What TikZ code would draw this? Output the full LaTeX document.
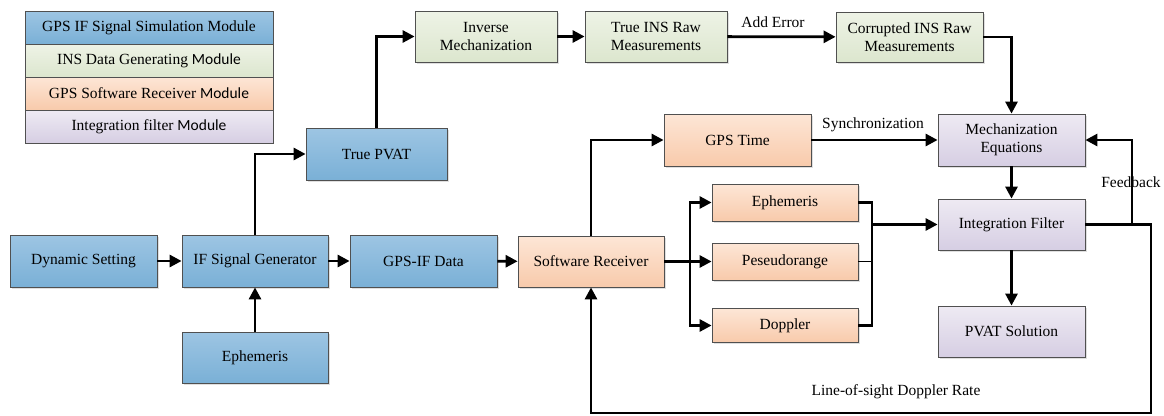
\documentclass[tikz,border=0pt]{standalone}
\usepackage{fontspec}
\setmainfont{Liberation Serif}
\newfontfamily\calib{Carlito}
\usetikzlibrary{arrows.meta,shadows}
\definecolor{bTop}{HTML}{9DC5E3}
\definecolor{bBot}{HTML}{7AB0D6}
\definecolor{gTop}{HTML}{EEF3E6}
\definecolor{gBot}{HTML}{DCE6CE}
\definecolor{oTop}{HTML}{FDE6D6}
\definecolor{oBot}{HTML}{F8CAAB}
\definecolor{pTop}{HTML}{EEEAF3}
\definecolor{pBot}{HTML}{D6CEE3}
\definecolor{edge}{HTML}{505050}
\tikzset{
  box/.style={draw=edge, line width=0.8pt, rectangle, inner sep=1pt, align=center,
    font=\fontsize{15.5}{18}\selectfont,
    drop shadow={shadow xshift=1.5pt, shadow yshift=-1.5pt, opacity=0.25}},
  bluebox/.style={box, top color=bTop, bottom color=bBot},
  greenbox/.style={box, top color=gTop, bottom color=gBot},
  orangebox/.style={box, top color=oTop, bottom color=oBot},
  purplebox/.style={box, top color=pTop, bottom color=pBot},
  legrow/.style={draw=edge, line width=0.8pt, rectangle, minimum width=248pt, minimum height=33pt,
    font=\fontsize{15.5}{18}\selectfont, inner sep=0pt},
  conn/.style={line width=2.8pt, -{Triangle[length=12pt,width=12pt]}},
  plain/.style={line width=2.8pt},
  lbl/.style={font=\fontsize{15.5}{18}\selectfont, inner sep=1pt}
}
\begin{document}
\begin{tikzpicture}[x=1pt,y=-1pt]
\useasboundingbox (0,0) rectangle (1164,415);
% legend
\node[legrow, top color=bTop, bottom color=bBot] (l1) at (149,27.5) {GPS IF Signal Simulation Module};
\node[legrow, top color=gTop, bottom color=gBot] (l2) at (149,60.5) {INS Data Generating {\calib Module}};
\node[legrow, top color=oTop, bottom color=oBot] (l3) at (149,93.5) {GPS Software Receiver {\calib Module}};
\node[legrow, top color=pTop, bottom color=pBot] (l4) at (149,126.5) {Integration filter {\calib Module}};
% blue
\node[bluebox, minimum width=147pt, minimum height=52pt] (dyn) at (83.5,261) {Dynamic Setting};
\node[bluebox, minimum width=146pt, minimum height=52pt] (ifgen) at (255,261) {IF Signal Generator};
\node[bluebox, minimum width=147pt, minimum height=52pt] (gpsif) at (423.5,261) {GPS-IF Data};
\node[bluebox, minimum width=146pt, minimum height=51pt] (ephA) at (255,357.5) {Ephemeris};
\node[bluebox, minimum width=141pt, minimum height=52pt] (pvat) at (376.5,154) {True PVAT};
% green
\node[greenbox, minimum width=142pt, minimum height=51pt] (inv) at (486,36.5) {Inverse\\Mechanization};
\node[greenbox, minimum width=142pt, minimum height=51pt] (tins) at (656,36.5) {True INS Raw\\Measurements};
\node[greenbox, minimum width=147pt, minimum height=50pt] (cins) at (909.5,37) {Corrupted INS Raw\\Measurements};
% orange
\node[orangebox, minimum width=146pt, minimum height=51pt] (swr) at (591,261.5) {Software Receiver};
\node[orangebox, minimum width=147pt, minimum height=52pt] (gtime) at (737.5,140) {GPS Time};
\node[orangebox, minimum width=146pt, minimum height=37pt] (ephB) at (785,202.5) {Ephemeris};
\node[orangebox, minimum width=146pt, minimum height=37pt] (pseudo) at (785,261.5) {Peseudorange};
\node[orangebox, minimum width=146pt, minimum height=34pt] (dop) at (785,325.5) {Doppler};
% purple
\node[purplebox, minimum width=147pt, minimum height=52pt] (mech) at (1011.5,140) {Mechanization\\Equations};
\node[purplebox, minimum width=147pt, minimum height=51pt] (intf) at (1011.5,224.5) {Integration Filter};
\node[purplebox, minimum width=147pt, minimum height=51pt] (sol) at (1011.5,331.5) {PVAT Solution};
% coordinates
\coordinate (fork) at (690,261.5);
\coordinate (mT) at (872,202.5);
\coordinate (mB) at (872,325.5);
\coordinate (mP) at (872,261.5);
\coordinate (mO) at (872,224.5);
\coordinate (fbA) at (1132,224.5);
\coordinate (fbB) at (1132,140);
\coordinate (rr) at (1151,224.5);
\coordinate (rb) at (1151,413);
\coordinate (lb) at (591,413);
% connectors
\draw[conn] (dyn) -- (ifgen);
\draw[conn] (ifgen) -- (gpsif);
\draw[conn] (gpsif) -- (swr);
\draw[conn] (ephA) -- (ifgen);
\draw[conn] (ifgen.north) |- (pvat.west);
\draw[conn] (pvat.north) |- (inv.west);
\draw[conn] (inv) -- (tins);
\draw[conn] (tins) -- (cins);
\draw[conn] (cins.east) -| (mech.north);
\draw[conn] (gtime) -- (mech);
\draw[conn] (swr.north) |- (gtime.west);
\draw[conn] (swr) -- (pseudo);
\draw[conn] (fork) |- (ephB.west);
\draw[conn] (fork) |- (dop.west);
\draw[plain] (ephB.east) -- (mT) -- (mB) -- (dop.east);
\draw[line width=0.6pt] (pseudo.east) -- (mP);
\draw[conn] (mO) -- (intf.west);
\draw[conn] (mech) -- (intf);
\draw[conn] (intf) -- (sol);
\draw[conn] (fbA) -- (fbB) -- (mech.east);
\draw[conn] (intf.east) -- (rr) -- (rb) -- (lb) -- (swr.south);
\node[lbl] (adderr) at (773,22) {Add Error};
\node[lbl] (sync) at (873,125) {Synchronization};
\node[lbl] (fblbl) at (1131,182) {Feedback};
\node[lbl] (loslbl) at (896,392) {Line-of-sight Doppler Rate};
\end{tikzpicture}
\end{document}
